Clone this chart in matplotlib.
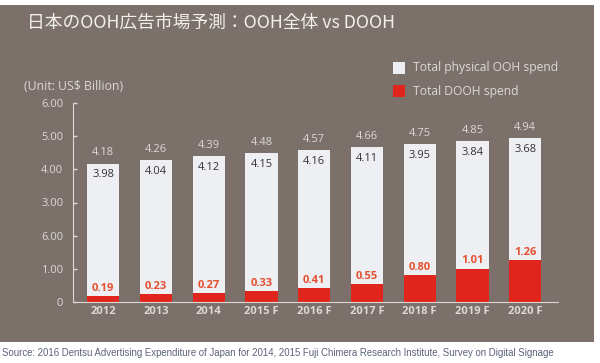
import matplotlib
matplotlib.use("Agg")
import matplotlib.pyplot as plt
from matplotlib.patches import Rectangle

plt.rcParams['font.family'] = ['Noto Sans CJK JP', 'DejaVu Sans']

years = ['2012', '2013', '2014', '2015 F', '2016 F', '2017 F', '2018 F', '2019 F', '2020 F']
total = [4.18, 4.26, 4.39, 4.48, 4.57, 4.66, 4.75, 4.85, 4.94]
physical = [3.98, 4.04, 4.12, 4.15, 4.16, 4.11, 3.95, 3.84, 3.68]
dooh = [0.19, 0.23, 0.27, 0.33, 0.41, 0.55, 0.80, 1.01, 1.26]
ytick_vals = [0, 1, 2, 3, 4, 5, 6]
ytick_labels = ['0', '1.00', '6.00', '3.00', '4.00', '5.00', '6.00']

BG = '#7b716a'
WHITE = '#eeeff3'
RED = '#e0261c'
LIGHT = '#ddd8d4'

fig = plt.figure(figsize=(6.0, 3.63), dpi=100, facecolor='white')
W, H = 600, 363
fig.patches.append(Rectangle((0, (H - 342) / H), 594 / W, (342 - 5) / H,
                             transform=fig.transFigure, facecolor=BG, edgecolor='none', zorder=-10))

ax = fig.add_axes([73 / W, (H - 302) / H, 485 / W, 199 / H])
ax.set_facecolor('none')
ax.set_zorder(5)
x = list(range(len(years)))
ax.bar(x, dooh, width=0.61, color=RED, zorder=2)
ax.bar(x, physical, bottom=dooh, width=0.61, color=WHITE, zorder=2)

for i in x:
    top = dooh[i] + physical[i]
    ax.annotate(f'{total[i]:.2f}', (i, top), xytext=(0, 4), textcoords='offset points',
                ha='center', va='bottom', fontsize=8, color=LIGHT, family='Open Sans')
    ax.annotate(f'{physical[i]:.2f}', (i, top), xytext=(0, -4), textcoords='offset points',
                ha='center', va='top', fontsize=8, color='#333333', family='Open Sans')
    ax.annotate(f'{dooh[i]:.2f}', (i, dooh[i]), xytext=(0, 1.5), textcoords='offset points',
                ha='center', va='bottom', fontsize=8, color='#e4502f', fontweight='bold',
                family='Open Sans')

ax.set_xlim(-0.57, 8.62)
ax.set_ylim(0, 6)
ax.set_yticks(ytick_vals)
ax.set_yticklabels(ytick_labels, family='Open Sans')
ax.set_xticks(x)
ax.set_xticklabels(years, fontweight='bold', family='Open Sans')
ax.tick_params(axis='y', direction='in', length=3, width=1, colors=LIGHT, labelsize=8, pad=7)
ax.tick_params(axis='x', length=0, colors=LIGHT, labelsize=8, pad=3)
for s in ['top', 'right']:
    ax.spines[s].set_visible(False)
ax.spines['left'].set_color(LIGHT)
ax.spines['bottom'].set_color(LIGHT)

fig.text(27 / W, 1 - 23 / H, '日本のOOH広告市場予測：OOH全体 vs DOOH', fontsize=12.8,
         color='#f2efec', va='center', ha='left')
fig.text(24 / W, 1 - 87 / H, '(Unit: US$ Billion)', fontsize=8.8, color=LIGHT,
         va='center', ha='left', family='Open Sans')

fig.patches.append(Rectangle((393 / W, 1 - 74 / H), 12 / W, 12 / H, transform=fig.transFigure,
                             facecolor=WHITE, edgecolor='none'))
fig.patches.append(Rectangle((393 / W, 1 - 97 / H), 12 / W, 12 / H, transform=fig.transFigure,
                             facecolor=RED, edgecolor='none'))
fig.text(413 / W, 1 - 68 / H, 'Total physical OOH spend', fontsize=8.7, color=LIGHT,
         va='center', ha='left', family='Open Sans')
fig.text(413 / W, 1 - 91 / H, 'Total DOOH spend', fontsize=8.7, color=LIGHT,
         va='center', ha='left', family='Open Sans')

fig.text(2 / W, 1 - 353 / H,
         'Source: 2016 Dentsu Advertising Expenditure of Japan for 2014, 2015 Fuji Chimera Research Institute, Survey on Digital Signage',
         fontsize=6.9, color='#5b6378', va='center', ha='left', family='Liberation Sans')

fig.savefig('out.png', dpi=100, facecolor='white')
